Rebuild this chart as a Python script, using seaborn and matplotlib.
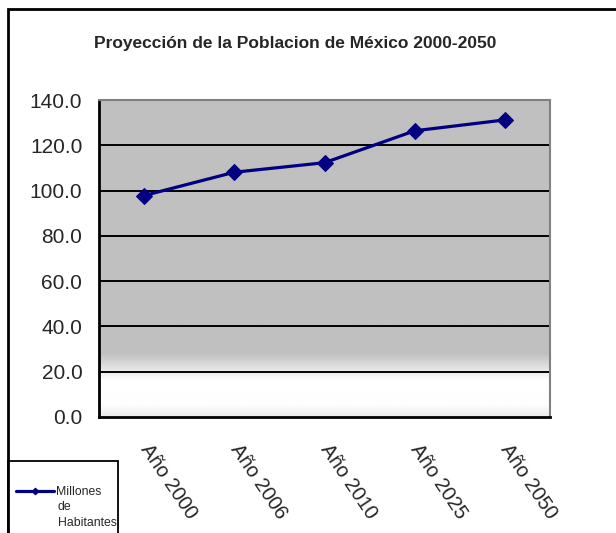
import numpy as np
import pandas as pd
import matplotlib
matplotlib.use("Agg")
import matplotlib.pyplot as plt
from matplotlib.patches import Rectangle
import seaborn as sns

# Data
years = ["Año 2000", "Año 2006", "Año 2010", "Año 2025", "Año 2050"]
population = [97.8, 108.1, 112.3, 126.4, 131.2]
series_label = ["Millones", "de", "Habitantes"]
y_ticks = [0, 20, 40, 60, 80, 100, 120, 140]

df = pd.DataFrame({"pos": np.arange(len(years)), "value": population})

sns.set_style("white")
plt.rcParams["font.family"] = ["Liberation Sans", "DejaVu Sans"]

W, H, DPI = 616, 533, 100
fig = plt.figure(figsize=(W / DPI, H / DPI), dpi=DPI)
fig.patch.set_facecolor("white")


def fx(px):
    return px / W


def fy(py):
    return 1 - py / H


# Plot area
left, right, top, bottom = 99, 550, 100, 417
ax = fig.add_axes([fx(left), fy(bottom), fx(right - left), (bottom - top) / H])

# Grey plot-area fill fading to white near the bottom
vals = np.linspace(0, 140, 561)
shade = np.interp(vals, [0, 5, 16, 28, 140], [232, 253, 255, 192, 192]) / 255.0
img = np.repeat(shade[:, None], 2, axis=1)
ax.imshow(img, cmap="gray", vmin=0, vmax=1, origin="lower",
          extent=(-0.5, len(years) - 0.5, 0, 140), aspect="auto",
          interpolation="bilinear", zorder=0)

sns.lineplot(data=df, x="pos", y="value", ax=ax, color="#000080",
             linewidth=2.3, marker="D", markersize=8.5,
             markeredgecolor="#000080", label=series_label[0],
             zorder=5, legend=False)

ax.set_xlim(-0.5, len(years) - 0.5)
ax.set_ylim(0, 140)
ax.set_yticks(y_ticks)
ax.set_yticklabels([f"{v:.1f}" for v in y_ticks])

# Category boundaries carry the tick marks, centres carry the labels
ax.set_xticks(np.arange(-0.5, len(years)), minor=False)
ax.set_xticklabels([])
ax.set_xticks(np.arange(len(years)), minor=True)
ax.set_xticklabels(years, minor=True, rotation=-56, ha="left", va="center",
                   rotation_mode="anchor", fontsize=14.5)
ax.tick_params(axis="x", which="minor", length=0, pad=21)
ax.tick_params(axis="x", which="major", length=7, width=1.5, direction="out",
               color="black")
ax.tick_params(axis="y", length=7, width=1.5, direction="out", color="black",
               labelsize=15, pad=5)
ax.set_xlabel("")
ax.set_ylabel("")

ax.grid(axis="y", color="black", linewidth=1.4, zorder=1)
ax.set_axisbelow(True)
for v, gl in zip(ax.get_yticks(), ax.yaxis.get_gridlines()):
    if v in (0, 140):
        gl.set_visible(False)

for s in ("top", "right"):
    ax.spines[s].set_color("#808080")
    ax.spines[s].set_linewidth(1.5)
for s in ("left", "bottom"):
    ax.spines[s].set_color("black")
    ax.spines[s].set_linewidth(2)
    ax.spines[s].set_visible(True)

# Title
fig.text(fx(295), fy(43), "Proyección de la Poblacion de México 2000-2050",
         ha="center", va="center", fontsize=12.5, fontweight="bold")

# Chart frame
fig.add_artist(Rectangle((fx(8), fy(560)), fx(640), (560 - 9) / H,
                         transform=fig.transFigure, fill=False,
                         edgecolor="black", linewidth=2, clip_on=False))

# Legend box
fig.add_artist(Rectangle((fx(8), fy(560)), fx(110), (560 - 461) / H,
                         transform=fig.transFigure, fill=False,
                         edgecolor="black", linewidth=1.3, clip_on=False))
handles, labels = ax.get_legend_handles_labels()
leg = fig.legend(handles, labels, loc="center left",
                 bbox_to_anchor=(fx(16), fy(492)), frameon=False,
                 fontsize=8.8, handlelength=3.1, handletextpad=0.2,
                 borderpad=0, borderaxespad=0, markerscale=0.4)
# Remaining lines of the wrapped series name
for i, word in enumerate(series_label[1:], start=1):
    fig.text(fx(58), fy(492 + 15.5 * i), word, ha="left", va="center",
             fontsize=8.8)

fig.savefig("out.png", dpi=DPI)
